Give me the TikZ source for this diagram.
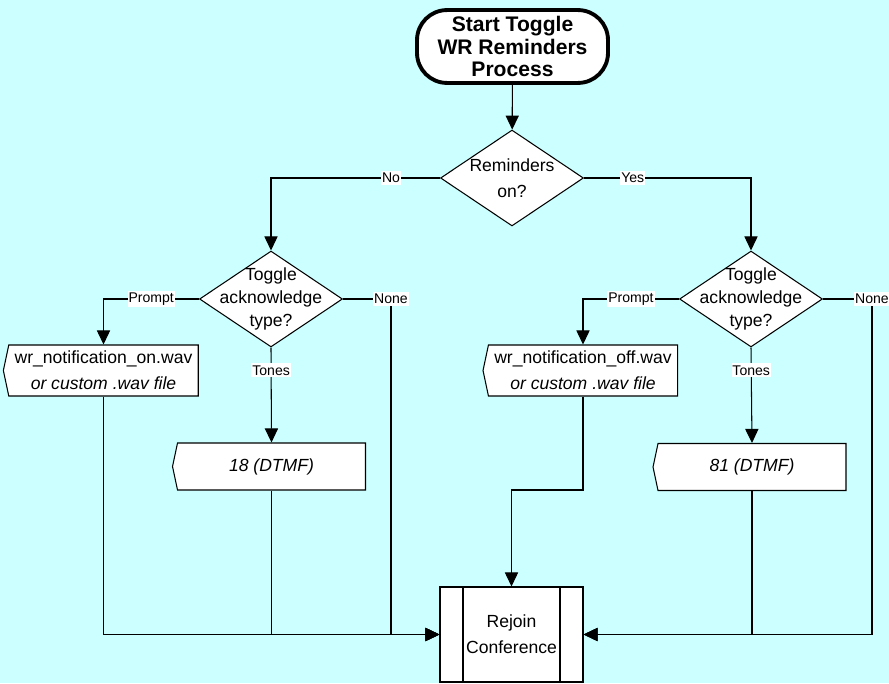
\documentclass[tikz,border=0pt]{standalone}
\usepackage{fontspec}
\setmainfont{Liberation Sans}
\usetikzlibrary{arrows.meta,positioning,shapes.geometric,shapes.symbols}
\definecolor{paleaqua}{RGB}{204,255,255}

\begin{document}
\begin{tikzpicture}[x=0.02cm,y=-0.02cm,line width=0.6pt,
  terminal/.style={draw,line width=2.2pt,rounded corners=0.6cm,fill=white,align=center,
              minimum width=3.82cm,minimum height=1.38cm,
              font=\bfseries\fontsize{12}{13}\selectfont},
  decision/.style={draw,diamond,fill=white,inner sep=0pt,
              minimum width=2.86cm,minimum height=1.92cm},
  dtext/.style={align=center,font=\fontsize{10}{13}\selectfont},
  display/.style={draw,signal,signal to=west,signal pointer angle=156,fill=white,
              align=center,minimum width=3.86cm,minimum height=0.94cm,
              font=\fontsize{10}{15}\selectfont},
  predef/.style={draw,fill=white,align=center,minimum width=2.86cm,minimum height=1.9cm,
              font=\fontsize{10}{15}\selectfont,
              path picture={
                \draw ([xshift=0.46cm]path picture bounding box.north west)
                  -- ([xshift=0.46cm]path picture bounding box.south west);
                \draw ([xshift=-0.46cm]path picture bounding box.north east)
                  -- ([xshift=-0.46cm]path picture bounding box.south east);}},
  lbl/.style={fill=white,inner xsep=0.5pt,inner ysep=1.2pt,font=\fontsize{8}{9.5}\selectfont},
  flow/.style={-{Triangle[length=8pt,width=7.5pt]}}
]
\path[fill=paleaqua,use as bounding box] (0,0) rectangle (889,683);

\node[terminal] (start) at (512.5,46.5) {Start Toggle\\WR Reminders\\Process};
\node[decision,label={[dtext,font=\fontsize{10}{15}\selectfont,name=remT]center:{Reminders\\on?}}]
  (rem) at (512,178) {};
\node[decision,label={[dtext,name=togonT]center:{Toggle\\acknowledge\\type?}}]
  (togon) at (271,299) {};
\node[decision,label={[dtext,name=togoffT]center:{Toggle\\acknowledge\\type?}}]
  (togoff) at (751,299) {};

\node[display] (wron) at (103.5,370.5)
  {wr\_notification\_on.wav\\\textit{or custom .wav file}};
\node[display] (dtmfon) at (271.5,466.5) {\textit{18 (DTMF)}};
\node[display] (wroff) at (583,370.5)
  {wr\_notification\_off.wav\\\textit{or custom .wav file}};
\node[display] (dtmfoff) at (752,467) {\textit{81 (DTMF)}};

\node[predef] (rejoin) at (511.5,634.5) {Rejoin\\Conference};

% corners where the branches turn
\coordinate (joinl) at (391,634.5);
\coordinate (joinr) at (872,634.5);
\coordinate (wrbend) at (547,490);

\draw[flow] (start) -- (rem);
\draw[flow] (rem.west) -| node[lbl,pos=0.145] (lno) {No} (togon.north);
\draw[flow] (rem.east) -| node[lbl,pos=0.146] (lyes) {Yes} (togoff.north);

% left branch
\draw[flow] (togon.west) -| node[lbl,pos=0.25] (lpl) {Prompt} (wron.north);
\draw[flow] (togon.south) -- node[lbl,pos=0.24] (ltl) {Tones} (dtmfon.north);
\draw[flow] (togon.east) -| node[lbl,pos=0.5] (lnl) {None} (joinl) -- (rejoin.west);
\draw[flow] (wron.south) |- (rejoin.west);
\draw[flow] (dtmfon.south) |- (rejoin.west);

% right branch
\draw[flow] (togoff.west) -| node[lbl,pos=0.25] (lpr) {Prompt} (wroff.north);
\draw[flow] (togoff.south) -- node[lbl,pos=0.24] (ltr) {Tones} (dtmfoff.north);
\draw[flow] (togoff.east) -| node[lbl,pos=0.5] (lnr) {None} (joinr) -- (rejoin.east);
\draw[flow] (dtmfoff.south) |- (rejoin.east);
\draw[flow] (wroff.south) |- (wrbend) -| (rejoin.north);
\end{tikzpicture}
\end{document}
